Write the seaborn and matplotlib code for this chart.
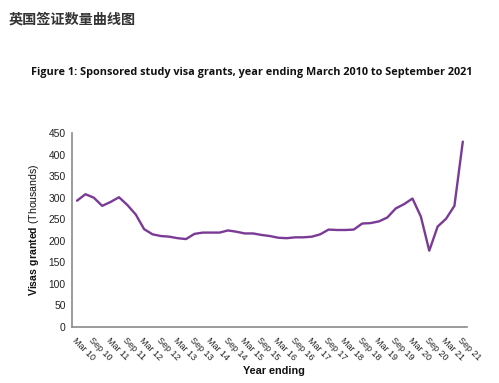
import matplotlib
matplotlib.use("Agg")
import matplotlib.pyplot as plt
import seaborn as sns
import pandas as pd

quarters = []
for yr in range(10, 22):
    for m in ["Mar", "Jun", "Sep", "Dec"]:
        quarters.append(f"{m} {yr}")
quarters = quarters[:47]  # Mar 10 .. Sep 21

visas = [293, 308, 300, 281, 290, 301, 283, 261, 227, 215,
         211, 209.5, 206, 204, 216, 219, 219, 219, 224, 221,
         217, 217, 213.5, 211, 207, 206, 208, 208, 209.5, 215,
         226, 225, 225, 226, 240, 241, 245, 254, 275, 285,
         298, 256, 177, 233, 251, 281, 430]

y_ticks = [0, 50, 100, 150, 200, 250, 300, 350, 400, 450]

df = pd.DataFrame({"idx": range(len(visas)), "quarter": quarters, "visas": visas})

sns.set_theme(style="white")
plt.rcParams["font.family"] = ["Liberation Sans", "DejaVu Sans"]
plt.rcParams["mathtext.fontset"] = "custom"
plt.rcParams["mathtext.bf"] = "Liberation Sans:bold"
plt.rcParams["mathtext.rm"] = "Liberation Sans"

fig = plt.figure(figsize=(4.99, 3.83), dpi=100)
ax = fig.add_axes([72/499, 1-327/383, (467-72)/499, (327-133)/383])

sns.lineplot(data=df, x="idx", y="visas", ax=ax, color="#7a3a96", linewidth=1.7)

ax.set_xlim(-0.6, 46.5)
ax.set_ylim(0, 450)
ax.set_yticks(y_ticks)
ax.set_yticklabels([str(v) for v in y_ticks], fontsize=7.4, color="#222222")
ax.set_xticks(list(range(len(quarters))))
ax.set_xticklabels([q if i % 2 == 0 else "" for i, q in enumerate(quarters)],
                   rotation=-45, ha="left", va="top", rotation_mode="anchor",
                   fontsize=6.5, color="#222222")

for s in ["top", "right"]:
    ax.spines[s].set_visible(False)
for s in ["left", "bottom"]:
    ax.spines[s].set_color("#8a8a8a")
    ax.spines[s].set_linewidth(1.2)
ax.tick_params(axis="both", which="major", direction="out", length=2.5, width=0.8,
               color="#8a8a8a", pad=2)
ax.tick_params(axis="x", pad=4)

ax.set_xlabel("Year ending", fontsize=7.8, fontweight="bold", color="#111111")
ax.set_ylabel(r"$\bf{Visas\ granted}$ (Thousands)", fontsize=7.6, color="#111111")
ax.xaxis.set_label_coords(0.51, -0.2)
ax.yaxis.set_label_coords(-0.078, 0.5)

fig.text(9/499, 1-20/383, "英国签证数量曲线图", fontsize=10.2, color="#333333",
         fontweight="bold",
         family=["Noto Sans CJK SC", "DejaVu Sans"], va="center", ha="left")
fig.text(252/499, 1-72/383,
         "Figure 1: Sponsored study visa grants, year ending March 2010 to September 2021",
         fontsize=7.8, fontweight="bold", color="#111111",
         family=["Open Sans", "DejaVu Sans"], va="center", ha="center")

fig.savefig("out.png", dpi=100)
